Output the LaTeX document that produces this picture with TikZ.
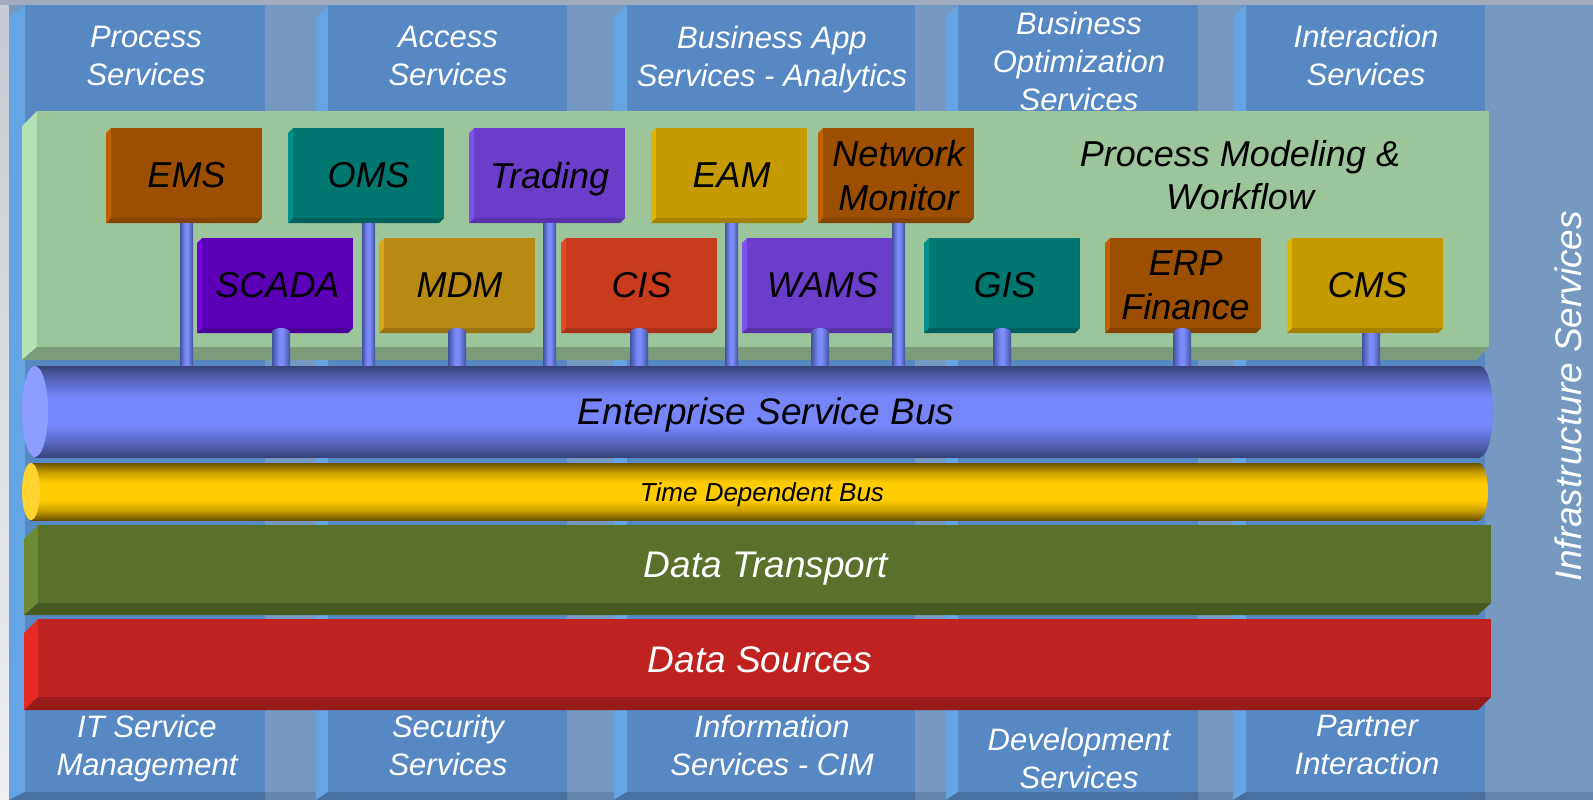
\documentclass[tikz,border=0pt]{standalone}
\usepackage{fontspec}
\setmainfont{Liberation Sans}

% service columns and backdrop
\definecolor{colmain}{HTML}{5689C3}
\definecolor{colbevel}{HTML}{66A5E3}
\definecolor{colbottom}{HTML}{4870A0}
\definecolor{gapblue}{HTML}{7699C2}
\definecolor{gapbottom}{HTML}{6685AC}
\definecolor{topgrey}{HTML}{A3ABBF}
\definecolor{edgetop}{HTML}{C5C9D3}
\definecolor{edgebot}{HTML}{EEF0F4}
% layers
\definecolor{gnfront}{HTML}{9CC59C}
\definecolor{gnleft}{HTML}{B5E1B5}
\definecolor{gnbot}{HTML}{7B9B7B}
\definecolor{dtfront}{HTML}{5B702B}
\definecolor{dtleft}{HTML}{6C8B33}
\definecolor{dtbot}{HTML}{465A22}
\definecolor{dsfront}{HTML}{C0221F}
\definecolor{dsleft}{HTML}{E52A24}
\definecolor{dsbot}{HTML}{971B19}
% buses and pipes
\definecolor{esbdark}{HTML}{394379}
\definecolor{esbmid}{HTML}{5866C0}
\definecolor{esblight}{HTML}{7686F8}
\definecolor{esbend}{HTML}{8F9DFF}
\definecolor{tdbdark}{HTML}{6B5200}
\definecolor{tdbmid}{HTML}{C89E00}
\definecolor{tdblight}{HTML}{FFCC00}
\definecolor{tdbend}{HTML}{FFD42E}
\definecolor{pipedark}{HTML}{4450A0}
\definecolor{pipelight}{HTML}{7B8BF7}
% application boxes
\definecolor{brfront}{HTML}{9C4F00}\definecolor{brleft}{HTML}{C06200}\definecolor{brbot}{HTML}{844300}
\definecolor{tlfront}{HTML}{007670}\definecolor{tlleft}{HTML}{00908A}\definecolor{tlbot}{HTML}{005F5A}
\definecolor{pufront}{HTML}{6A3EC8}\definecolor{puleft}{HTML}{7F4FF0}\definecolor{pubot}{HTML}{5833A8}
\definecolor{gdfront}{HTML}{C49A00}\definecolor{gdleft}{HTML}{E2B400}\definecolor{gdbot}{HTML}{A58100}
\definecolor{vifront}{HTML}{5C00B8}\definecolor{vileft}{HTML}{7000E0}\definecolor{vibot}{HTML}{4C009A}
\definecolor{mufront}{HTML}{B98A12}\definecolor{muleft}{HTML}{DCA618}\definecolor{mubot}{HTML}{9B7410}
\definecolor{rdfront}{HTML}{C83B1C}\definecolor{rdleft}{HTML}{E84924}\definecolor{rdbot}{HTML}{A83118}

\pgfdeclareverticalshading{esbshade}{100bp}{color(0bp)=(esbdark); color(25bp)=(esbdark); color(33bp)=(esbmid); color(42bp)=(esblight); color(58bp)=(esblight); color(67bp)=(esbmid); color(75bp)=(esbdark); color(100bp)=(esbdark)}
\pgfdeclareverticalshading{tdbshade}{100bp}{color(0bp)=(tdbdark); color(25bp)=(tdbdark); color(33bp)=(tdbmid); color(42bp)=(tdblight); color(58bp)=(tdblight); color(67bp)=(tdbmid); color(75bp)=(tdbdark); color(100bp)=(tdbdark)}
\pgfdeclarehorizontalshading{pipeshade}{100bp}{color(0bp)=(pipedark); color(25bp)=(pipedark); color(45bp)=(pipelight); color(55bp)=(pipelight); color(75bp)=(pipedark); color(100bp)=(pipedark)}

\tikzset{
  svc/.style={text=white, align=center, inner sep=0pt, font=\fontsize{31pt}{38pt}\selectfont\itshape},
  appfront/.style={anchor=north west, minimum width=151pt, minimum height=90pt, inner sep=0pt, outer sep=0pt},
  applabel/.style={inner sep=0pt, align=center, text=black, font=\fontsize{36pt}{43.5pt}\selectfont\itshape},
  layerfront/.style={anchor=north west, inner sep=0pt, outer sep=0pt},
  layerlabel/.style={inner sep=0pt, text=white, font=\fontsize{37pt}{44pt}\selectfont\itshape},
  busfont/.style={inner sep=0pt, text=black, font=\fontsize{37pt}{44pt}\selectfont\itshape},
}

% service column: bevel left, face left, face right
\newcommand\svccol[3]{%
  \fill[colmain] (#2,5) rectangle (#3,792);
  \fill[colbevel] (#1,17) -- (#2,5) -- (#2,792) -- (#1,800) -- cycle;
  \fill[colbottom] (#1,800) -- (#2,792) -- (#3,792) -- (#3,800) -- cycle;
}
% bevelled application box: name, left x, top y, colour family, text
\newcommand\appbox[5]{%
  \node[appfront, fill=#4front] (#1) at (#2+5,#3) {};
  \fill[#4left] (#1.north west) -- (#1.south west) -- ([shift={(-5,5)}]#1.south west) -- ([shift={(-5,5)}]#1.north west) -- cycle;
  \fill[#4bot] (#1.south west) -- (#1.south east) -- ([shift={(-5,5)}]#1.south east) -- ([shift={(-5,5)}]#1.south west) -- cycle;
  \node[applabel] (#1label) at ([shift={(0,2.5)}]#1.center) {#5};
}
% long thin pipe from an upper box down to the service bus
\newcommand\longpipe[1]{%
  \path ([shift={(-6.5,5)}]#1.south) coordinate (#1pa) ([shift={(6.5,0)}]#1.south) coordinate (#1pb);
  \shade[shading=pipeshade] (#1pa) rectangle (#1pb |- esbtop);
}
% short stub from a lower box down to the service bus, with rounded top
\newcommand\stubpipe[2]{%
  \path ([shift={(#2-9,4)}]#1.south) coordinate (#1sa) ([shift={(#2+9,0)}]#1.south) coordinate (#1sb)
        ([shift={(#2,4)}]#1.south) coordinate (#1sc);
  \shade[shading=pipeshade] (#1sa) rectangle (#1sb |- esbtop);
  \shade[shading=pipeshade] (#1sc) ellipse [x radius=9pt, y radius=4pt];
}
\newcommand\flatstub[2]{%
  \path ([shift={(#2-9,5)}]#1.south) coordinate (#1sa) ([shift={(#2+9,0)}]#1.south) coordinate (#1sb);
  \shade[shading=pipeshade] (#1sa) rectangle (#1sb |- esbtop);
}

\begin{document}
\begin{tikzpicture}[x=1pt,y=-1pt]
\useasboundingbox (0,0) rectangle (1593,800);

% page edges and backdrop
\shade[top color=edgetop, bottom color=edgebot] (0,0) rectangle (9,800);
\fill[topgrey] (0,0) rectangle (1593,5);
\fill[gapblue] (9,5) rectangle (1593,800);
\fill[gapbottom] (9,792) rectangle (1593,800);

% service columns
\svccol{9}{25}{265}
\svccol{316}{328}{567}
\svccol{614}{627}{915}
\svccol{946}{958}{1198}
\svccol{1233}{1246}{1485}

\coordinate (esbtop) at (0,366);

% top service labels
\node[svc] (ps) at (146,55.5) {Process\\Services};
\node[svc] (as) at (448,55.5) {Access\\Services};
\node[svc] (bas) at (772,59) {Business App\\Services - Analytics};
\node[svc] (bos) at (1079,61) {Business\\Optimization\\Services};
\node[svc] (is) at (1366,55.5) {Interaction\\Services};

% bottom service labels
\node[svc] (itsm) at (147,748) {IT Service\\Management};
\node[svc] (ss) at (448,745) {Security\\Services};
\node[svc] (cim) at (772,745) {Information\\Services - CIM};
\node[svc] (ds) at (1079,758) {Development\\Services};
\node[svc] (pi) at (1367,745) {Partner\\Interaction};

% process modelling layer
\fill[gnleft] (22,126) -- (37,111) -- (37,347) -- (22,360) -- cycle;
\fill[gnbot] (22,360) -- (37,347) -- (1489,347) -- (1476,360) -- cycle;
\node[layerfront, fill=gnfront, minimum width=1452pt, minimum height=236pt] (pmw) at (37,111) {};
\node[busfont, align=center, font=\fontsize{36pt}{43pt}\selectfont\itshape] (pmwlabel) at (1240,175) {Process Modeling \&\\Workflow};

% application boxes
\appbox{ems}{106}{128}{br}{EMS}
\appbox{oms}{288}{128}{tl}{OMS}
\appbox{trading}{469}{128}{pu}{Tradin\smash{g}}
\appbox{eam}{651}{128}{gd}{EAM}
\appbox{netmon}{818}{128}{br}{Network\\Monitor}
\appbox{scada}{197}{238}{vi}{SCADA}
\appbox{mdm}{379}{238}{mu}{MDM}
\appbox{cis}{561}{238}{rd}{CIS}
\appbox{wams}{742}{238}{pu}{WAMS}
\appbox{gis}{924}{238}{tl}{GIS}
\appbox{erp}{1105}{238}{br}{ERP\\Finance}
\appbox{cms}{1287}{238}{gd}{CMS}

% connections to the service bus
\longpipe{ems}
\longpipe{oms}
\longpipe{trading}
\longpipe{eam}
\longpipe{netmon}
\stubpipe{scada}{3.5}
\stubpipe{mdm}{-2.5}
\stubpipe{cis}{-2.5}
\stubpipe{wams}{-2.5}
\stubpipe{gis}{-2.5}
\stubpipe{erp}{-3.5}
\flatstub{cms}{3.5}

% enterprise service bus
\shade[shading=esbshade] (1480,411.5) ellipse [x radius=13pt, y radius=45.5pt];
\shade[shading=esbshade] (35,366) rectangle (1480,457);
\fill[esbend] (35,411.5) ellipse [x radius=13pt, y radius=45.5pt];
\node[busfont] (esb) at (766,415) {Enterprise Service Bus};

% time dependent bus
\shade[shading=tdbshade] (1479,491.5) ellipse [x radius=9pt, y radius=28.5pt];
\shade[shading=tdbshade] (31,463) rectangle (1479,520);
\fill[tdbend] (31,491.5) ellipse [x radius=9pt, y radius=28.5pt];
\node[busfont, font=\fontsize{26pt}{30pt}\selectfont\itshape] (tdb) at (762,494.5) {Time Dependent Bus};

% data transport
\fill[dtleft] (24,539) -- (38,525) -- (38,603) -- (24,615) -- cycle;
\fill[dtbot] (24,615) -- (38,603) -- (1491,603) -- (1478,615) -- cycle;
\node[layerfront, fill=dtfront, minimum width=1453pt, minimum height=78pt] (dt) at (38,525) {};
\node[layerlabel] (dtlabel) at (766,569) {Data Transport};

% data sources
\fill[dsleft] (24,633) -- (38,619) -- (38,697) -- (24,710) -- cycle;
\fill[dsbot] (24,710) -- (38,697) -- (1491,697) -- (1478,710) -- cycle;
\node[layerfront, fill=dsfront, minimum width=1453pt, minimum height=78pt] (dsrc) at (38,619) {};
\node[layerlabel] (dslabel) at (760,660) {Data Sources};

% infrastructure services
\node[svc, font=\fontsize{37pt}{44pt}\selectfont\itshape, rotate=90] (infra) at (1568,396) {Infrastructure Services};
\end{tikzpicture}
\end{document}
